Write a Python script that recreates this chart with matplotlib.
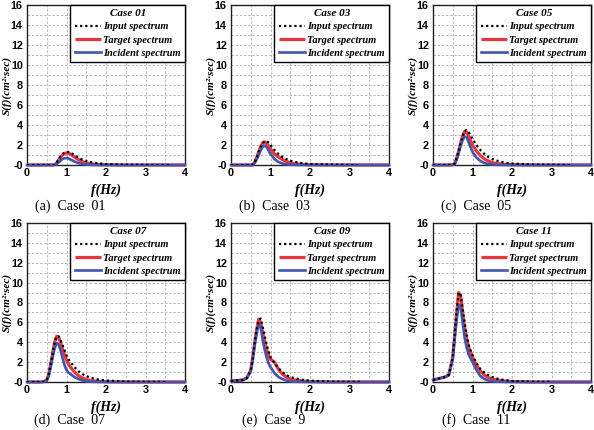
import numpy as np
import matplotlib
matplotlib.use("Agg")
import matplotlib.pyplot as plt
from matplotlib.ticker import MultipleLocator, FixedLocator, FixedFormatter

# ---------------- data ----------------
FREQ = [0, 0.3, 0.4, 0.5, 0.55, 0.6, 0.65, 0.7, 0.75, 0.8, 0.85, 0.9, 0.95,
        1.0, 1.05, 1.1, 1.2, 1.3, 1.4, 1.5, 1.6, 1.8, 2.0, 2.5, 3.0, 4.0]

CASES = ["Case 01", "Case 03", "Case 05", "Case 07", "Case 09", "Case 11"]
CAPTIONS = ["(a)  Case  01", "(b)  Case  03", "(c)  Case  05",
            "(d)  Case  07", "(e)  Case  9", "(f)  Case  11"]

TARGET = [
    [0, 0, 0, 0, 0, 0, 0, 0.02, 0.2, 0.5, 0.8, 1.0, 1.15, 1.2, 1.15, 1.1, 0.8, 0.55, 0.35, 0.2, 0.12, 0.05, 0.02, 0, 0, 0],
    [0, 0, 0, 0, 0, 0.3, 0.75, 1.3, 1.8, 2.2, 2.3, 2.2, 1.9, 1.6, 1.35, 1.1, 0.8, 0.55, 0.35, 0.22, 0.14, 0.06, 0.03, 0, 0, 0],
    [0, 0, 0, 0.02, 0.15, 0.7, 1.4, 2.2, 2.9, 3.35, 3.3, 2.9, 2.45, 2.0, 1.7, 1.4, 0.95, 0.6, 0.4, 0.25, 0.15, 0.07, 0.03, 0, 0, 0],
    [0, 0, 0, 0.2, 0.8, 1.8, 2.9, 4.0, 4.6, 4.5, 4.0, 3.3, 2.7, 2.2, 1.8, 1.5, 1.0, 0.65, 0.4, 0.25, 0.15, 0.07, 0.03, 0, 0, 0],
    [0.1, 0.2, 0.4, 1.2, 2.4, 4.0, 5.3, 6.3, 6.0, 5.0, 4.1, 3.3, 2.7, 2.3, 2.15, 2.0, 1.3, 0.8, 0.5, 0.3, 0.2, 0.1, 0.05, 0, 0, 0],
    [0.2, 0.5, 0.7, 2.5, 4.8, 7.0, 9.0, 8.6, 7.0, 5.5, 4.4, 3.5, 3.0, 2.5, 2.1, 1.7, 1.1, 0.7, 0.45, 0.3, 0.2, 0.1, 0.05, 0, 0, 0],
]

INCIDENT = [
    [0, 0, 0, 0, 0, 0, 0, 0, 0.1, 0.25, 0.45, 0.6, 0.68, 0.7, 0.65, 0.55, 0.35, 0.2, 0.1, 0.05, 0.02, 0, 0, 0, 0, 0],
    [0, 0, 0, 0, 0, 0.2, 0.55, 1.0, 1.45, 1.8, 1.95, 1.8, 1.45, 1.1, 0.85, 0.6, 0.3, 0.15, 0.07, 0.03, 0.01, 0, 0, 0, 0, 0],
    [0, 0, 0, 0.02, 0.12, 0.55, 1.2, 1.9, 2.5, 2.85, 2.8, 2.3, 1.8, 1.3, 1.0, 0.75, 0.4, 0.2, 0.1, 0.05, 0.02, 0, 0, 0, 0, 0],
    [0, 0, 0, 0.15, 0.6, 1.5, 2.5, 3.4, 3.9, 3.8, 3.2, 2.4, 1.7, 1.2, 0.95, 0.8, 0.5, 0.3, 0.15, 0.07, 0.03, 0.01, 0, 0, 0, 0],
    [0.1, 0.2, 0.4, 1.1, 2.2, 3.7, 4.9, 5.8, 5.5, 4.3, 3.3, 2.5, 1.9, 1.5, 1.2, 0.9, 0.5, 0.3, 0.15, 0.07, 0.03, 0.01, 0, 0, 0, 0],
    [0.2, 0.5, 0.7, 2.3, 4.4, 6.3, 7.8, 7.5, 6.0, 4.5, 3.5, 2.8, 2.4, 2.0, 1.6, 1.2, 0.6, 0.3, 0.15, 0.07, 0.03, 0.01, 0, 0, 0, 0],
]

INPUT = [
    [0, 0, 0, 0, 0, 0, 0, 0.02, 0.25, 0.55, 0.85, 1.1, 1.25, 1.3, 1.3, 1.25, 1.0, 0.75, 0.55, 0.4, 0.3, 0.17, 0.1, 0.03, 0.01, 0],
    [0, 0, 0, 0, 0, 0.3, 0.75, 1.3, 1.85, 2.2, 2.35, 2.4, 2.25, 2.0, 1.75, 1.5, 1.1, 0.8, 0.6, 0.43, 0.32, 0.18, 0.1, 0.04, 0.01, 0],
    [0, 0, 0, 0.02, 0.15, 0.7, 1.4, 2.2, 2.9, 3.4, 3.5, 3.3, 3.0, 2.6, 2.3, 2.0, 1.5, 1.1, 0.8, 0.6, 0.45, 0.25, 0.15, 0.05, 0.02, 0],
    [0, 0, 0, 0.2, 0.8, 1.8, 2.9, 4.0, 4.6, 4.6, 4.2, 3.7, 3.2, 2.7, 2.3, 2.0, 1.5, 1.1, 0.8, 0.6, 0.45, 0.25, 0.15, 0.05, 0.02, 0],
    [0.1, 0.2, 0.4, 1.2, 2.4, 4.0, 5.3, 6.2, 6.4, 5.6, 4.7, 3.8, 3.1, 2.5, 2.2, 1.9, 1.4, 1.0, 0.7, 0.5, 0.4, 0.22, 0.13, 0.05, 0.02, 0],
    [0.2, 0.5, 0.7, 2.5, 4.9, 7.2, 9.0, 8.8, 7.4, 6.0, 4.8, 3.8, 3.2, 2.7, 2.3, 1.9, 1.3, 0.95, 0.7, 0.5, 0.35, 0.2, 0.1, 0.04, 0, 0],
]
INPUT_END = [3.6, 3.2, 3.5, 3.5, 3.3, 3.0]

YTICKS = [0, 2, 4, 6, 8, 10, 12, 14, 16]
YTICKLABELS = ["-0", "2", "4", "6", "8", "10", "12", "14", "16"]
XTICKS = [0, 1, 2, 3, 4]

# ---------------- figure ----------------
W, H = 594, 430
fig = plt.figure(figsize=(W / 100, H / 100), dpi=100)

col_left = [27, 231, 433]
row_top = [5, 223]
row_h = [160, 159]
cap_off = [41, 38]
ax_w = 158

SERIF_BI = dict(family="Liberation Serif", weight="bold", style="italic")
RED = "#e8363c"
BLUE = "#4254b0"

f = np.array(FREQ)
for i in range(6):
    r, c = divmod(i, 3)
    x0 = col_left[c]
    y0 = row_top[r]
    ax_h = row_h[r]
    ax = fig.add_axes([x0 / W, 1 - (y0 + ax_h) / H, ax_w / W, ax_h / H])

    tgt = np.array(TARGET[i])
    inc = np.array(INCIDENT[i])
    inp = np.array(INPUT[i])
    m = f < INPUT_END[i]
    fin = np.append(f[m], INPUT_END[i])
    yin = np.append(inp[m], 0.0)

    ax.plot(f, tgt, color=RED, lw=2.3, label="Target spectrum", zorder=3,
            solid_joinstyle="round", solid_capstyle="butt", clip_on=False)
    ax.plot(f, inc, color=BLUE, lw=1.9, label="Incident spectrum", zorder=4,
            solid_joinstyle="round", clip_on=False)
    ax.plot(fin, yin, color="black", lw=1.6, ls=(0, (1, 1.3)),
            label="Input spectrum", zorder=5)

    ax.set_xlim(0, 4)
    ax.set_ylim(0, 16)
    ax.xaxis.set_major_locator(FixedLocator(XTICKS))
    ax.xaxis.set_minor_locator(MultipleLocator(0.5))
    ax.yaxis.set_major_locator(FixedLocator(YTICKS))
    ax.yaxis.set_major_formatter(FixedFormatter(YTICKLABELS))
    ax.yaxis.set_minor_locator(MultipleLocator(1))
    ax.grid(True, which="both", color="#b0b0b0", ls=(0, (3, 2)), lw=0.6)
    ax.set_axisbelow(True)
    ax.tick_params(which="both", length=0)
    ax.tick_params(axis="y", pad=3)
    ax.tick_params(axis="x", pad=2.5)
    for lab in ax.get_xticklabels() + ax.get_yticklabels():
        lab.set_fontfamily("Liberation Sans")
        lab.set_fontweight("bold")
        lab.set_fontsize(7.8)
    for sp in ax.spines.values():
        sp.set_linewidth(1.0)
        sp.set_color("#222222")

    ax.set_xlabel("f(Hz)", fontsize=10, labelpad=3.5, **SERIF_BI)
    ax.set_ylabel("S(f)(cm²·sec)", fontsize=8, **SERIF_BI)
    ax.yaxis.set_label_coords(-15 / ax_w, 0.5)

    h, l = ax.get_legend_handles_labels()
    order = [2, 0, 1]
    leg = ax.legend([h[k] for k in order], [l[k] for k in order],
                    title=CASES[i], loc="upper right",
                    bbox_to_anchor=(1.0, 1.0), borderaxespad=0,
                    prop=dict(family="Liberation Serif", weight="bold",
                              style="italic", size=7.5),
                    handlelength=2.5, handletextpad=0.25, labelspacing=0.38,
                    borderpad=0.4, fancybox=False, framealpha=1,
                    edgecolor="black")
    leg.get_title().set_fontfamily("Liberation Serif")
    leg.get_title().set_fontweight("bold")
    leg.get_title().set_fontstyle("italic")
    leg.get_title().set_fontsize(8)
    leg.get_frame().set_linewidth(1.0)
    leg.set_zorder(10)

    cx = (x0 + ax_w / 2 - 36) / W
    cy = 1 - (y0 + ax_h + cap_off[r]) / H
    fig.text(cx, cy, CAPTIONS[i], ha="center", va="center",
             family="Liberation Serif", fontsize=10)

fig.savefig("out.png", dpi=100)
